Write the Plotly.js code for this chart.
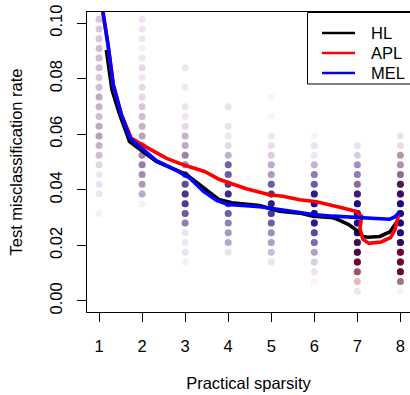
<!DOCTYPE html>
<html>
<head>
<meta charset="utf-8">
<script src="https://cdn.plot.ly/plotly-3.0.1.min.js"></script>
<style>html,body{margin:0;padding:0;background:#fff;}#chart{width:410px;height:395px;}</style>
</head>
<body>
<div id="chart"></div>
<script>
// ---------- data ----------
const methodNames = ['HL', 'APL', 'MEL'];
const sparsity = [1, 2, 3, 4, 5, 6, 7, 8];
const xTickVals = [1, 2, 3, 4, 5, 6, 7, 8];
const yTickVals = [0, 0.02, 0.04, 0.06, 0.08, 0.10];
const yTickText = ['0.00', '0.02', '0.04', '0.06', '0.08', '0.10'];

// possible test misclassification rates (grid of observed values)
const rateLevels = [0.0000, 0.0035, 0.0070, 0.0105, 0.0140, 0.0175, 0.0210, 0.0245, 0.0280, 0.0315,
                    0.0350, 0.0385, 0.0420, 0.0455, 0.0490, 0.0524, 0.0559, 0.0594, 0.0629, 0.0664,
                    0.0699, 0.0734, 0.0769, 0.0804, 0.0839, 0.0874, 0.0909, 0.0944, 0.0979, 0.1014];

// replicate counts per sparsity (rows) and rate level (columns)
const hlCounts = [
  [0,0,0,0,0,0,0,0,0,1, 0,0,1,0,3,2,3,5,4,2, 3,4,2,1,2,2,2,1,1,1],
  [0,0,0,0,0,0,0,0,0,0, 1,3,5,6,7,7,4,3,3,2, 1,1,1,0,1,0,1,0,0,0],
  [0,0,0,0,1,1,0,1,7,12, 18,20,15,7,6,6,3,2,1,0, 1,0,0,0,0,0,0,0,0,0],
  [0,0,0,0,0,1,4,5,7,11, 14,23,18,11,11,3,1,0,1,0, 1,0,0,0,0,0,0,0,0,0],
  [0,0,0,0,1,2,5,6,11,18, 29,18,11,4,3,1,0,0,0,0, 0,0,0,0,0,0,0,0,0,0],
  [0,0,0,0,1,4,9,14,28,43, 38,29,11,7,2,0,1,0,0,0, 0,0,0,0,0,0,0,0,0,0],
  [0,1,3,13,55,50,50,48,46,46, 46,30,9,6,4,1,1,0,0,0, 0,0,0,0,0,0,0,0,0,0],
  [0,0,10,50,55,55,50,45,47,47, 47,44,32,10,6,6,0,1,0,0, 0,0,0,0,0,0,0,0,0,0]
];
const aplCounts = [
  [0,0,0,0,0,0,0,0,0,0, 0,1,0,1,0,2,2,2,2,2, 2,2,2,2,2,2,2,2,2,2],
  [0,0,0,0,0,0,0,0,0,0, 0,2,2,3,3,3,3,3,2,2, 2,1,1,1,1,1,0,1,1,1],
  [0,0,0,0,0,0,1,0,2,2, 2,3,2,2,2,3,2,2,1,1, 0,0,1,0,1,0,0,0,0,0],
  [0,0,0,0,0,0,1,1,1,2, 2,2,2,2,2,1,1,1,0,0, 0,0,0,0,0,0,0,0,0,0],
  [0,0,0,0,0,1,1,1,2,2, 2,2,2,2,2,1,2,1,0,1, 0,1,0,0,0,0,0,0,0,0],
  [0,0,1,1,1,2,2,2,3,2, 3,2,2,2,2,1,0,1,0,0, 0,0,0,0,0,0,0,0,0,0],
  [0,1,3,8,15,9,7,3,4,3, 3,6,4,2,2,1,0,0,0,0, 0,0,0,0,0,0,0,0,0,0],
  [0,1,4,11,14,14,5,3,3,3, 3,7,7,4,3,3,1,0,0,0, 0,0,0,0,0,0,0,0,0,0]
];
const melCounts = [
  [0,0,0,0,0,0,0,0,0,0, 0,1,1,1,0,2,2,2,2,2, 2,2,2,2,2,2,2,2,2,2],
  [0,0,0,0,0,0,0,0,0,0, 0,3,3,3,4,3,3,3,2,2, 2,1,1,1,1,1,0,1,1,1],
  [0,0,0,0,0,1,1,1,5,6, 8,8,7,5,4,4,3,3,1,1, 1,0,1,0,1,0,0,0,0,0],
  [0,0,0,0,0,1,3,4,5,6, 8,9,9,7,6,3,1,1,1,0, 1,0,0,0,0,0,0,0,0,0],
  [0,0,0,0,1,3,3,4,6,9, 9,9,7,4,3,2,1,1,0,0, 0,0,0,0,0,0,0,0,0,0],
  [0,0,0,1,2,3,6,8,15,14, 14,12,7,5,3,1,1,0,0,0, 0,0,0,0,0,0,0,0,0,0],
  [0,0,0,1,3,5,7,12,14,15, 15,10,4,6,5,2,1,0,0,0, 0,0,0,0,0,0,0,0,0,0],
  [0,0,1,4,4,4,8,13,14,14, 13,9,6,3,2,1,2,1,0,0, 0,0,0,0,0,0,0,0,0,0]
];

// mean curves (practical sparsity vs test misclassification rate)
const hlX  = [1.17, 1.30, 1.48, 1.71, 1.91, 2.33, 3.03, 3.34, 3.78, 4.08, 4.73, 5.19, 5.66, 5.97, 6.44, 6.59, 6.80, 7.00, 7.13, 7.25, 7.52, 7.75, 7.87, 7.95];
const hlY  = [0.0903, 0.0760, 0.0670, 0.0573, 0.0550, 0.0502, 0.0455, 0.0419, 0.0365, 0.0353, 0.0343, 0.0323, 0.0316, 0.0305, 0.0299, 0.0290, 0.0275, 0.0252, 0.0232, 0.0229, 0.0232, 0.0248, 0.0272, 0.0291];
const aplX = [1.05, 1.09, 1.21, 1.33, 1.52, 1.72, 1.75, 2.14, 2.57, 2.99, 3.45, 3.80, 4.42, 4.96, 5.27, 5.66, 6.05, 6.59, 6.96, 7.10, 7.06, 7.13, 7.27, 7.55, 7.77, 7.87, 7.91, 7.96];
const aplY = [0.1150, 0.1040, 0.0920, 0.0778, 0.0671, 0.0590, 0.0585, 0.0550, 0.0513, 0.0488, 0.0466, 0.0437, 0.0404, 0.0382, 0.0377, 0.0364, 0.0357, 0.0337, 0.0323, 0.0305, 0.0260, 0.0222, 0.0207, 0.0212, 0.0228, 0.0255, 0.0285, 0.0310];
const melX = [1.05, 1.09, 1.21, 1.33, 1.52, 1.72, 1.91, 2.33, 2.84, 3.11, 3.42, 3.73, 4.00, 4.73, 5.19, 5.66, 5.97, 6.44, 6.75, 7.75, 7.87, 7.98];
const melY = [0.1150, 0.1040, 0.0920, 0.0778, 0.0669, 0.0586, 0.0560, 0.0505, 0.0466, 0.0442, 0.0395, 0.0362, 0.0347, 0.0339, 0.0329, 0.0318, 0.0311, 0.0305, 0.0303, 0.0294, 0.0302, 0.0320];

// ---------- drawing ----------
const colors = ['#000000', '#FF0000', '#0000FF'];
const pointAlpha = 0.05;
const FONT = 'Liberation Sans, Arial, Helvetica, sans-serif';
const FS = 16.5;

function pointTrace(counts, color, name) {
  const xs = [], ys = [], op = [];
  sparsity.forEach((s, i) => {
    counts[i].forEach((n, k) => {
      if (n > 0) { xs.push(s); ys.push(rateLevels[k]); op.push(1 - Math.pow(1 - pointAlpha, n)); }
    });
  });
  return {x: xs, y: ys, type: 'scatter', mode: 'markers', name: name, hoverinfo: 'skip',
          marker: {color: color, size: 7, opacity: op, line: {width: 0}}};
}
function lineTrace(x, y, color, name) {
  return {x: x, y: y, type: 'scatter', mode: 'lines', name: name,
          line: {color: color, width: 3.6, shape: 'linear'}};
}

const traces = [
  pointTrace(hlCounts, colors[0], 'HL points'),
  pointTrace(aplCounts, colors[1], 'APL points'),
  pointTrace(melCounts, colors[2], 'MEL points'),
  lineTrace(hlX, hlY, colors[0], methodNames[0]),
  lineTrace(aplX, aplY, colors[1], methodNames[1]),
  lineTrace(melX, melY, colors[2], methodNames[2])
];

const L = 87, T = 12, PW = 323, PH = 300;
const px = v => (v - L) / PW;
const py = v => 1 - (v - T) / PH;

const shapes = [{type: 'rect', xref: 'paper', yref: 'paper', x0: px(307.5), x1: px(440), y0: py(84), y1: py(12.5),
                 line: {color: '#000', width: 1}, fillcolor: '#fff', layer: 'above'}];
const annotations = [];
methodNames.forEach((m, i) => {
  const yy = py(33 + 20 * i);
  shapes.push({type: 'line', xref: 'paper', yref: 'paper', x0: px(322), x1: px(355), y0: yy, y1: yy,
               line: {color: colors[i], width: 2.5}, layer: 'above'});
  annotations.push({xref: 'paper', yref: 'paper', x: px(369), y: yy, xanchor: 'left', yanchor: 'middle',
                    text: m, showarrow: false, font: {family: FONT, size: FS, color: '#000'}});
});

const layout = {
  width: 410, height: 395,
  margin: {l: L, r: 0, t: T, b: 395 - T - PH, pad: 0},
  paper_bgcolor: '#fff', plot_bgcolor: '#fff',
  showlegend: false,
  font: {family: FONT, size: FS, color: '#000'},
  xaxis: {range: [0.72, 8.223], tickvals: xTickVals, ticks: 'outside', ticklen: 9, tickwidth: 1, tickcolor: '#000',
          showline: true, linecolor: '#000', linewidth: 1, mirror: true, showgrid: false, zeroline: false,
          ticklabelstandoff: 10, tickfont: {family: FONT, size: FS, color: '#000'},
          title: {text: 'Practical sparsity', standoff: 23, font: {family: FONT, size: FS, color: '#000'}}},
  yaxis: {range: [-0.004, 0.104], tickvals: yTickVals, ticktext: yTickText, tickangle: -90,
          ticks: 'outside', ticklen: 9, tickwidth: 1, tickcolor: '#000',
          showline: true, linecolor: '#000', linewidth: 1, mirror: false, showgrid: false, zeroline: false,
          ticklabelstandoff: 8, tickfont: {family: FONT, size: FS, color: '#000'},
          title: {text: 'Test misclassification rate', standoff: 20, font: {family: FONT, size: FS, color: '#000'}}},
  shapes: shapes,
  annotations: annotations
};

Plotly.newPlot('chart', traces, layout, {displayModeBar: false, staticPlot: true});
</script>
</body>
</html>
